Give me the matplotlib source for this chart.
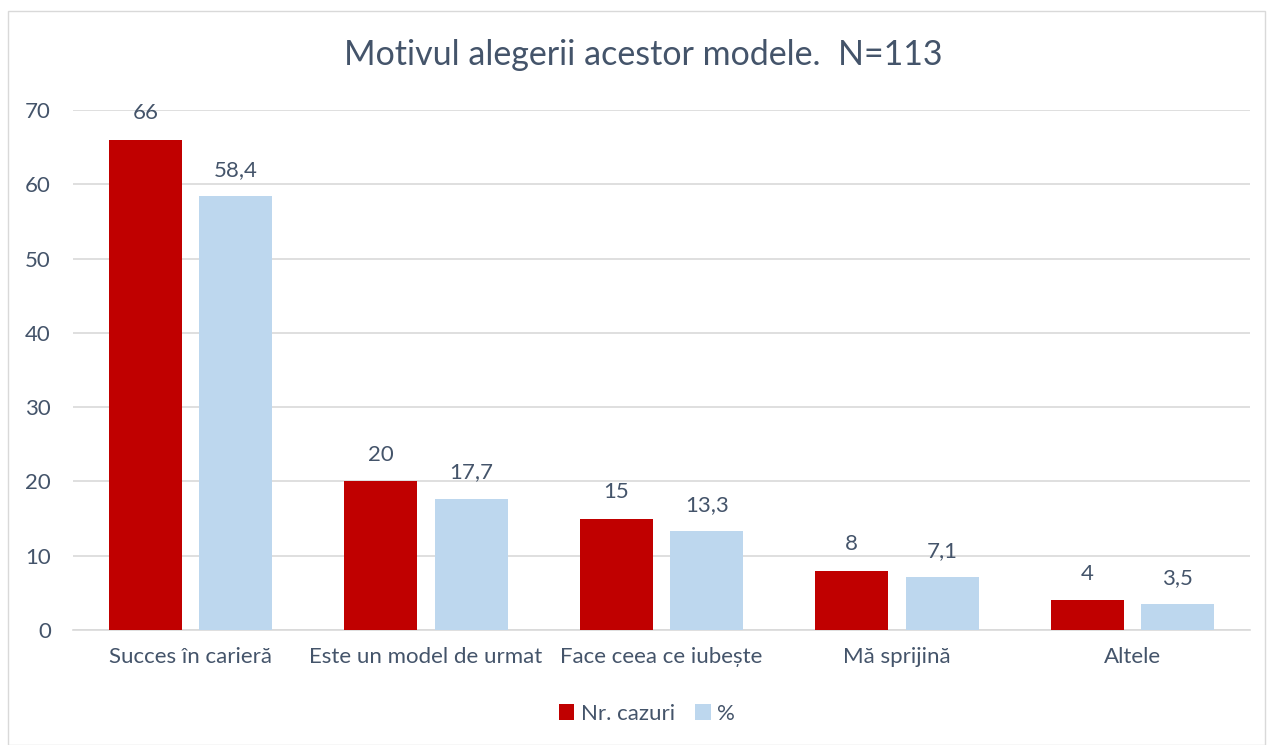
import matplotlib.pyplot as plt
import numpy as np
from matplotlib.patches import Rectangle

categories = ["Succes în carieră", "Este un model de urmat", "Face ceea ce iubește",
              "Mă sprijină", "Altele"]
nr_cazuri = [66, 20, 15, 8, 4]
procent = [58.4, 17.7, 13.3, 7.1, 3.5]
labels_nr = ["66", "20", "15", "8", "4"]
labels_pct = ["58,4", "17,7", "13,3", "7,1", "3,5"]

text_col = "#44546A"
red = "#C00000"
blue = "#BDD7EE"
grid_col = "#D9D9D9"

plt.rcParams['font.family'] = ['Lato', 'DejaVu Sans']

fig = plt.figure(figsize=(12.68, 7.45), dpi=100)
fig.patches.append(Rectangle((8/1268, 0), 1257/1268, 1 - 11/745, transform=fig.transFigure,
                             fill=False, edgecolor="#D9D9D9", linewidth=1))
ax = fig.add_axes([73/1268, 1 - 630/745, 1177/1268, 520/745])

x = np.arange(len(categories))
w = 0.31
off = 0.192
b1 = ax.bar(x - off, nr_cazuri, w, color=red, label="Nr. cazuri", zorder=3)
b2 = ax.bar(x + off, procent, w, color=blue, label="%", zorder=3)

for bars, labs in [(b1, labels_nr), (b2, labels_pct)]:
    for rect, lab in zip(bars, labs):
        ax.annotate(lab, (rect.get_x() + rect.get_width() / 2, rect.get_height()),
                    xytext=(0, 19), textcoords="offset points",
                    ha="center", va="center", fontsize=16, color=text_col)

ax.set_xlim(-0.5, len(categories) - 0.5)
ax.set_ylim(0, 70)
ax.set_yticks(range(0, 71, 10))
ax.set_xticks(x)
ax.set_xticklabels(categories)
ax.tick_params(axis="both", length=0, labelsize=16, colors=text_col)
ax.tick_params(axis="x", pad=12)
ax.tick_params(axis="y", pad=16)
ax.grid(axis="y", color=grid_col, linewidth=1.2, zorder=0)
for s in ["top", "right", "left"]:
    ax.spines[s].set_visible(False)
ax.spines["bottom"].set_color(grid_col)
ax.spines["bottom"].set_linewidth(1.2)

fig.text(0.5075, 1 - 55/745, "Motivul alegerii acestor modele.  N=113", ha="center", va="center",
         fontsize=24.5, color=text_col)

fig.legend(loc="center", bbox_to_anchor=(647/1268, 1 - 714/745), ncol=2, frameon=False,
           fontsize=16, labelcolor=text_col, handlelength=0.7, handleheight=0.7,
           handletextpad=0.3, columnspacing=0.9)

fig.savefig("out.png", dpi=100)
